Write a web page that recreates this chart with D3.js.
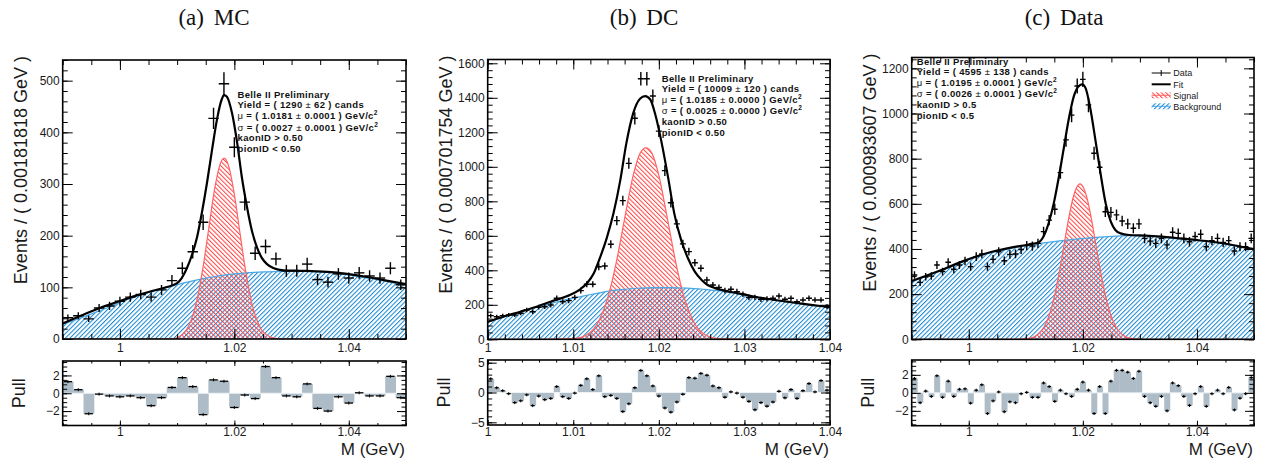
<!DOCTYPE html>
<html>
<head>
<meta charset="utf-8">
<script src="https://cdn.jsdelivr.net/npm/d3@7"></script>
<style>
  body { margin: 0; background: #fff; }
  svg { display: block; font-family: "Liberation Sans", Arial, sans-serif; }
</style>
</head>
<body>
<svg id="chart" width="1267" height="461"></svg>
<script>
// ---------- (a) MC ----------
const mcCounts = [41, 45, 39, 60, 64, 73, 81, 86, 81, 95, 113, 137, 169, 226, 427, 494, 371, 265, 166, 179, 155, 132, 132, 145, 115, 110, 126, 118, 128, 122, 118, 137, 105];
const mcPulls = [1.3, 0.4, -2.3, -0.1, -0.3, -0.4, -0.3, -0.5, -1.4, -0.5, 0.65, 1.75, 0.75, -2.4, 1.5, 1.35, -1.6, -0.2, -0.6, 3.0, 1.75, -0.3, -0.4, 1.05, -1.7, -2.0, -0.4, -1.1, 0.05, -0.3, -0.3, 1.9, -0.5];
const mcFit = [[0.99, 30], [0.9936, 47], [0.9965, 60], [0.9995, 71.5], [1.0024, 82.5], [1.0053, 92], [1.0082, 100.5], [1.0100, 108], [1.0108, 118], [1.0117, 137], [1.0126, 163], [1.0135, 198], [1.0143, 243], [1.0152, 301], [1.0161, 366], [1.0170, 427], [1.0178, 464], [1.0182, 472], [1.0187, 469], [1.0196, 437], [1.0205, 379], [1.0213, 314], [1.0222, 256], [1.0231, 208], [1.0240, 176], [1.0248, 157], [1.0257, 145], [1.0269, 137], [1.0286, 133], [1.0315, 132], [1.0344, 131], [1.0374, 129], [1.0403, 125], [1.0432, 120], [1.0461, 114], [1.05, 106]];
const mcBkg = [[0.99, 28], [0.9965, 55], [1.0024, 81], [1.0082, 100], [1.0141, 116], [1.0199, 126], [1.0257, 130], [1.0315, 131.5], [1.0374, 128], [1.0432, 118], [1.05, 104]];
const mcSig = [[0.99, 0], [1.005, 0], [1.0092, 1], [1.0110, 10], [1.0125, 38], [1.0135, 77], [1.0145, 137], [1.0155, 212], [1.0165, 287], [1.0175, 338], [1.0182, 350], [1.0190, 335], [1.0200, 280], [1.0210, 204], [1.0220, 130], [1.0230, 72], [1.0240, 35], [1.0255, 9], [1.0275, 1], [1.032, 0], [1.05, 0]];
const mcXTicks = [1, 1.02, 1.04];
const mcYTicks = [0, 100, 200, 300, 400, 500];
const mcPullTicks = [-2, 0, 2];
const mcInfo = ['Belle II Preliminary', 'Yield = ( 1290 ± 62 ) cands', 'μ = ( 1.0181 ± 0.0001 ) GeV/c^2', 'σ = ( 0.0027 ± 0.0001 ) GeV/c^2', 'kaonID > 0.50', 'pionID < 0.50'];

// ---------- (b) DC ----------
const dcCounts = [137, 131, 137, 141, 141, 151, 170, 160, 186, 189, 199, 238, 218, 224, 243, 282, 319, 319, 421, 425, 551, 688, 804, 1020, 1281, 1510, 1510, 1410, 1207, 978, 792, 669, 553, 508, 444, 412, 344, 315, 301, 282, 290, 276, 261, 242, 243, 232, 234, 238, 251, 232, 238, 218, 228, 238, 228, 228, 189];
const dcPulls = [2.3, 0.8, 0.3, -0.2, -1.7, -1.4, -0.4, -2.2, -0.6, -1.2, -1.0, 1.0, -0.7, -1.0, -0.1, 1.2, 2.3, 0.5, 2.8, -0.7, -0.5, -1.0, -3.2, -1.9, 0.8, 3.7, 2.8, 1.1, -0.6, -2.6, -3.3, -1.6, -0.3, 2.5, 2.4, 3.2, 2.9, 1.1, 0.8, -0.8, 0.1, -0.1, -0.8, -1.5, -2.9, -1.7, -2.3, -1.6, 0.2, -0.9, 0.5, -1.0, 0.3, 1.5, 0.1, 2.0, 0.4];
const dcFit = [[1.0, 102], [1.0018, 131], [1.0038, 160], [1.0057, 189], [1.0077, 224], [1.0096, 257], [1.0108, 290], [1.0116, 325], [1.0124, 383], [1.0131, 470], [1.0139, 585], [1.0147, 730], [1.0155, 924], [1.0162, 1136], [1.0170, 1310], [1.0178, 1395], [1.0184, 1410], [1.0190, 1390], [1.0196, 1300], [1.0203, 1146], [1.0211, 933], [1.0218, 730], [1.0226, 576], [1.0234, 470], [1.0242, 392], [1.0250, 344], [1.0257, 315], [1.0265, 298], [1.0272, 288], [1.0292, 267], [1.0311, 248], [1.0330, 232], [1.0350, 218], [1.0369, 205], [1.0389, 193], [1.04, 186]];
const dcBkg = [[1.0, 100], [1.0038, 158], [1.0077, 212], [1.0116, 255], [1.0135, 274], [1.0155, 288], [1.0174, 296], [1.0194, 300], [1.0213, 300], [1.0233, 297], [1.0252, 290], [1.0272, 280], [1.0291, 265], [1.0311, 247], [1.0350, 217], [1.04, 185]];
const dcSig = [[1.0, 0], [1.006, 0], [1.0100, 4], [1.0115, 24], [1.0130, 108], [1.0140, 235], [1.0150, 440], [1.0160, 700], [1.0170, 950], [1.0178, 1078], [1.0185, 1110], [1.0192, 1078], [1.0200, 950], [1.0210, 700], [1.0220, 440], [1.0230, 235], [1.0240, 108], [1.0255, 24], [1.0270, 4], [1.031, 0], [1.04, 0]];
const dcXTicks = [1, 1.01, 1.02, 1.03, 1.04];
const dcYTicks = [0, 200, 400, 600, 800, 1000, 1200, 1400, 1600];
const dcPullTicks = [-5, 0, 5];
const dcInfo = ['Belle II Preliminary', 'Yield = ( 10009 ± 120 ) cands', 'μ = ( 1.0185 ± 0.0000 ) GeV/c^2', 'σ = ( 0.0025 ± 0.0000 ) GeV/c^2', 'kaonID > 0.50', 'pionID < 0.50'];

// ---------- (c) Data ----------
const dataCounts = [285, 252, 277, 280, 329, 300, 341, 310, 329, 347, 322, 366, 378, 322, 354, 388, 348, 376, 378, 398, 415, 413, 425, 477, 528, 576, 738, 883, 993, 1122, 1151, 1038, 824, 762, 565, 562, 551, 524, 511, 492, 511, 447, 435, 425, 447, 418, 474, 469, 447, 432, 455, 465, 410, 437, 447, 429, 437, 391, 410, 410, 447];
const dataPulls = [1.6, -1.1, 0.2, -0.4, 1.9, -0.5, 1.3, -0.4, 0.4, 0.45, -1.15, 0.3, 0.9, -2.3, -0.9, 0.1, -2.1, -1.0, -1.1, -0.1, 0.05, -0.5, -0.5, 1.1, 0.7, -0.95, 0.3, -0.1, -0.4, 0.4, 1.2, 0.3, -2.3, 0.7, -2.3, 1.3, 2.5, 2.5, 2.3, 1.6, 2.4, -0.4, -1.1, -1.5, -0.4, -2.0, 1.1, 0.8, -0.4, -1.4, -0.1, 0.7, -1.5, -0.1, 0.3, -0.1, 0.6, -1.9, -0.6, -0.1, 1.7];
const dataFit = [[0.99, 258], [0.9929, 285], [0.9959, 314], [0.9988, 344], [1.0017, 370], [1.0046, 391], [1.0076, 407], [1.0105, 420], [1.0123, 430], [1.0131, 455], [1.0140, 514], [1.0149, 602], [1.0158, 720], [1.0167, 853], [1.0175, 971], [1.0184, 1075], [1.0193, 1122], [1.0199, 1129], [1.0205, 1111], [1.0213, 1023], [1.0222, 883], [1.0231, 735], [1.0240, 602], [1.0249, 521], [1.0257, 484], [1.0266, 469], [1.0281, 462], [1.0310, 459], [1.0339, 455], [1.0369, 447], [1.0398, 440], [1.0427, 432], [1.0456, 421], [1.0486, 406], [1.05, 399]];
const dataBkg = [[0.99, 255], [0.9959, 312], [1.0017, 368], [1.0076, 404], [1.0135, 428], [1.0193, 445], [1.0252, 456], [1.0281, 459], [1.0310, 458], [1.0369, 446], [1.0427, 431], [1.05, 397]];
const dataSig = [[0.99, 0], [1.008, 0], [1.0105, 4], [1.0120, 19], [1.0133, 59], [1.0143, 122], [1.0151, 200], [1.0159, 301], [1.0167, 417], [1.0175, 533], [1.0182, 618], [1.0189, 672], [1.0195, 688], [1.0201, 672], [1.0208, 618], [1.0215, 533], [1.0223, 417], [1.0231, 301], [1.0239, 200], [1.0247, 122], [1.0257, 59], [1.0270, 19], [1.0285, 4], [1.031, 0], [1.05, 0]];
const dataXTicks = [1, 1.02, 1.04];
const dataYTicks = [0, 200, 400, 600, 800, 1000, 1200];
const dataPullTicks = [-2, 0, 2];
const dataInfo = ['Belle II Preliminary', 'Yield = ( 4595 ± 138 ) cands', 'μ = ( 1.0195 ± 0.0001 ) GeV/c^2', 'σ = ( 0.0026 ± 0.0001 ) GeV/c^2', 'kaonID > 0.5', 'pionID < 0.5'];
const legendLabels = ['Data', 'Fit', 'Signal', 'Background'];

// ---------- layout ----------
const panels = [
  { key: 'mc', title: '(a) MC', titleX: 214, counts: mcCounts, pulls: mcPulls, fit: mcFit, bkg: mcBkg, sig: mcSig,
    xTicks: mcXTicks, yTicks: mcYTicks, pullTicks: mcPullTicks, info: mcInfo, yTitle: 'Events / ( 0.00181818 GeV )',
    xDomain: [0.99, 1.05], xMinor: 0.005, yMax: 540, yMinor: 20, pullMax: 3.62, pullMinor: 0.5,
    left: 62.7, right: 406, top: 60, bottom: 339, pullTop: 361, pullBottom: 425.5,
    infoX: 237.5, infoY: [97.7, 108.3, 119.4, 130.5, 141.3, 151.9] },
  { key: 'dc', title: '(b) DC', titleX: 644, counts: dcCounts, pulls: dcPulls, fit: dcFit, bkg: dcBkg, sig: dcSig,
    xTicks: dcXTicks, yTicks: dcYTicks, pullTicks: dcPullTicks, info: dcInfo, yTitle: 'Events / ( 0.000701754 GeV )',
    xDomain: [1.0, 1.04], xMinor: 0.002, yMax: 1622, yMinor: 40, pullMax: 5.45, pullMinor: 1,
    left: 487.7, right: 830, top: 59.5, bottom: 339.3, pullTop: 360, pullBottom: 425,
    infoX: 661.7, infoY: [81.5, 92.1, 103.2, 114.3, 125.1, 135.7] },
  { key: 'data', title: '(c) Data', titleX: 1064, counts: dataCounts, pulls: dataPulls, fit: dataFit, bkg: dataBkg, sig: dataSig,
    xTicks: dataXTicks, yTicks: dataYTicks, pullTicks: dataPullTicks, info: dataInfo, yTitle: 'Events / ( 0.000983607 GeV )',
    xDomain: [0.99, 1.05], xMinor: 0.005, yMax: 1248, yMinor: 40, pullMax: 3.65, pullMinor: 0.5,
    left: 911.7, right: 1254, top: 57.5, bottom: 339.3, pullTop: 360, pullBottom: 425.7,
    infoX: 916.7, infoY: [64.5, 75.1, 86.2, 97.3, 108.1, 118.7], legend: true }
];

const svg = d3.select('#chart');
const defs = svg.append('defs');

function hatch(id, color, angle) {
  const p = defs.append('pattern')
    .attr('id', id)
    .attr('patternUnits', 'userSpaceOnUse')
    .attr('width', 3.2)
    .attr('height', 3.2)
    .attr('patternTransform', `rotate(${angle})`);
  p.append('line')
    .attr('x1', 0.5).attr('y1', 0).attr('x2', 0.5).attr('y2', 3.2)
    .attr('stroke', color).attr('stroke-width', 1.05);
}
hatch('bkgHatch', '#1686d2', 45);
hatch('sigHatch', '#ff4545', -45);

// minor ticks between the domain ends
function minorTicks(domain, step) {
  const start = Math.ceil(domain[0] / step - 1e-6);
  const out = [];
  for (let i = start; i * step <= domain[1] + 1e-9; i++) { out.push(+(i * step).toFixed(6)); }
  return out;
}

function tickAxis(g, axis, transform, values, size, fmt, padding) {
  const a = g.append('g')
    .attr('transform', transform)
    .call(axis.tickValues(values).tickSize(-size).tickPadding(padding || 0).tickFormat(fmt || (() => '')));
  a.select('.domain').remove();
  a.attr('font-family', null).attr('font-size', null);
  a.selectAll('line').attr('stroke', '#000').attr('stroke-width', 1);
  a.selectAll('text').attr('fill', '#1a1a1a').attr('font-size', 12);
  return a;
}

function frame(g, x, y, box, xMaj, xMin, yMaj, yMin, len, yFmt, xPad) {
  const xFmt = (v) => String(+v.toFixed(4));
  tickAxis(g, d3.axisBottom(x), `translate(0,${box.bottom})`, xMaj, len.xMaj, xFmt, xPad);
  tickAxis(g, d3.axisBottom(x), `translate(0,${box.bottom})`, xMin, len.xMin);
  tickAxis(g, d3.axisTop(x), `translate(0,${box.top})`, xMaj, len.xMaj);
  tickAxis(g, d3.axisTop(x), `translate(0,${box.top})`, xMin, len.xMin);
  tickAxis(g, d3.axisLeft(y), `translate(${box.left},0)`, yMaj, len.yMaj, yFmt, 3);
  tickAxis(g, d3.axisLeft(y), `translate(${box.left},0)`, yMin, len.yMin);
  tickAxis(g, d3.axisRight(y), `translate(${box.right},0)`, yMaj, len.yMaj);
  tickAxis(g, d3.axisRight(y), `translate(${box.right},0)`, yMin, len.yMin);
  g.append('rect')
    .attr('x', box.left).attr('y', box.top)
    .attr('width', box.right - box.left).attr('height', box.bottom - box.top)
    .attr('fill', 'none').attr('stroke', '#000').attr('stroke-width', 1.6);
}

function infoText(g, lines, x0, ys) {
  lines.forEach((s, i) => {
    const t = g.append('text')
      .attr('x', x0).attr('y', ys[i])
      .attr('font-size', 9.5).attr('font-weight', 'bold')
      .attr('letter-spacing', 0.35).attr('fill', '#111');
    s.split(/(μ|σ|±|\^2)/).forEach((part) => {
      if (!part) { return; }
      if (part === '^2') {
        t.append('tspan').attr('dy', -4).attr('font-size', 6.5).text('2');
      } else if ('μσ±'.includes(part)) {
        t.append('tspan').attr('font-weight', 'normal').text(part);
      } else {
        t.append('tspan').text(part);
      }
    });
  });
}

function drawPanel(p) {
  const g = svg.append('g');
  const x = d3.scaleLinear().domain(p.xDomain).range([p.left, p.right]);
  const y = d3.scaleLinear().domain([0, p.yMax]).range([p.bottom, p.top]);
  const yp = d3.scaleLinear().domain([-p.pullMax, p.pullMax]).range([p.pullBottom, p.pullTop]);

  // title
  svg.append('text')
    .attr('x', p.titleX).attr('y', 25)
    .attr('text-anchor', 'middle')
    .attr('font-family', '"Liberation Serif", "DejaVu Serif", serif')
    .attr('font-size', 23)
    .attr('word-spacing', 4)
    .attr('fill', '#111')
    .text(p.title);

  const clipId = `clip-${p.key}`;
  defs.append('clipPath').attr('id', clipId)
    .append('rect')
    .attr('x', p.left).attr('y', p.top)
    .attr('width', p.right - p.left).attr('height', p.bottom - p.top);

  const plot = g.append('g').attr('clip-path', `url(#${clipId})`);
  const area = d3.area().x((d) => x(d[0])).y0(y(0)).y1((d) => y(d[1])).curve(d3.curveMonotoneX);
  const line = d3.line().x((d) => x(d[0])).y((d) => y(d[1])).curve(d3.curveMonotoneX);

  plot.append('path').datum(p.bkg).attr('d', area).attr('fill', 'url(#bkgHatch)');
  plot.append('path').datum(p.sig).attr('d', area).attr('fill', 'url(#sigHatch)');
  plot.append('path').datum(p.bkg).attr('d', line)
    .attr('fill', 'none').attr('stroke', '#4aa8e4').attr('stroke-width', 1.2);
  plot.append('path').datum(p.sig).attr('d', line)
    .attr('fill', 'none').attr('stroke', '#ff6464').attr('stroke-width', 1.2);
  plot.append('path').datum(p.fit).attr('d', line)
    .attr('fill', 'none').attr('stroke', '#000').attr('stroke-width', 2.2);

  // data points with Poisson error bars
  const bw = (p.xDomain[1] - p.xDomain[0]) / p.counts.length;
  const bins = p.counts.map((c, i) => ({ lo: p.xDomain[0] + i * bw, hi: p.xDomain[0] + (i + 1) * bw, c, e: Math.sqrt(c) }));
  const pts = plot.append('g').attr('stroke', '#000').attr('stroke-width', 1.4);
  pts.selectAll('line.h').data(bins).join('line').attr('class', 'h')
    .attr('x1', (d) => x(d.lo)).attr('x2', (d) => x(d.hi))
    .attr('y1', (d) => y(d.c)).attr('y2', (d) => y(d.c));
  pts.selectAll('line.v').data(bins).join('line').attr('class', 'v')
    .attr('x1', (d) => x((d.lo + d.hi) / 2)).attr('x2', (d) => x((d.lo + d.hi) / 2))
    .attr('y1', (d) => y(d.c - d.e)).attr('y2', (d) => y(d.c + d.e));

  const minorX = minorTicks(p.xDomain, p.xMinor);
  frame(g, x, y, { left: p.left, right: p.right, top: p.top, bottom: p.bottom },
    p.xTicks, minorX, p.yTicks, minorTicks([0, p.yMax], p.yMinor),
    { xMaj: 10, xMin: 5, yMaj: 10, yMin: 5 }, d3.format('d'), 4.5);

  infoText(g, p.info, p.infoX, p.infoY);

  // pull panel
  const pulls = p.pulls.map((v, i) => ({ lo: p.xDomain[0] + i * bw, hi: p.xDomain[0] + (i + 1) * bw, v }));
  const pg = g.append('g');
  pg.selectAll('rect').data(pulls).join('rect')
    .attr('x', (d) => x(d.lo)).attr('width', (d) => x(d.hi) - x(d.lo) + 0.4)
    .attr('y', (d) => yp(Math.max(0, d.v))).attr('height', (d) => Math.abs(yp(d.v) - yp(0)))
    .attr('fill', '#adbcc6');
  pg.append('line')
    .attr('x1', p.left).attr('x2', p.right).attr('y1', yp(0)).attr('y2', yp(0))
    .attr('stroke', '#eef2f5').attr('stroke-width', 1);
  const marks = pg.append('g').attr('stroke', '#000');
  marks.selectAll('line.h').data(pulls).join('line').attr('class', 'h')
    .attr('x1', (d) => x(d.lo) + 1).attr('x2', (d) => x(d.hi) - 1)
    .attr('y1', (d) => yp(d.v)).attr('y2', (d) => yp(d.v)).attr('stroke-width', 1.3);
  marks.selectAll('line.v').data(pulls).join('line').attr('class', 'v')
    .attr('x1', (d) => x((d.lo + d.hi) / 2)).attr('x2', (d) => x((d.lo + d.hi) / 2))
    .attr('y1', (d) => yp(d.v) - 1.5).attr('y2', (d) => yp(d.v) + 1.5).attr('stroke-width', 1);

  frame(g, x, yp, { left: p.left, right: p.right, top: p.pullTop, bottom: p.pullBottom },
    p.xTicks, minorX, p.pullTicks, minorTicks([-p.pullMax, p.pullMax], p.pullMinor),
    { xMaj: 5, xMin: 2.5, yMaj: 9, yMin: 4.5 }, d3.format('d'), 2);

  // axis titles
  const titleX = p.left - 36;
  g.append('text')
    .attr('transform', `translate(${titleX},${p.top - 4}) rotate(-90)`)
    .attr('text-anchor', 'end')
    .attr('font-size', 18).attr('fill', '#1a1a1a')
    .text(p.yTitle);
  g.append('text')
    .attr('transform', `translate(${titleX - 2},${(p.pullTop + p.pullBottom) / 2}) rotate(-90)`)
    .attr('text-anchor', 'middle')
    .attr('font-size', 18).attr('fill', '#1a1a1a')
    .text('Pull');
  g.append('text')
    .attr('x', p.right - 1).attr('y', 455)
    .attr('text-anchor', 'end')
    .attr('font-size', 17).attr('fill', '#1a1a1a')
    .text('M (GeV)');

  if (p.legend) { drawLegend(g); }
}

function drawLegend(g) {
  const lx0 = 1151.7;
  const lx1 = 1170.7;
  const rows = [73, 84.3, 95.3, 106.3];
  const lg = g.append('g');
  legendLabels.forEach((label, i) => {
    const yy = rows[i];
    if (label === 'Data') {
      lg.append('line').attr('x1', lx0).attr('x2', lx1).attr('y1', yy).attr('y2', yy).attr('stroke', '#000').attr('stroke-width', 1);
      lg.append('line').attr('x1', (lx0 + lx1) / 2).attr('x2', (lx0 + lx1) / 2).attr('y1', yy - 3).attr('y2', yy + 3).attr('stroke', '#000').attr('stroke-width', 1);
    } else if (label === 'Fit') {
      lg.append('line').attr('x1', lx0).attr('x2', lx1).attr('y1', yy).attr('y2', yy).attr('stroke', '#000').attr('stroke-width', 2);
    } else {
      lg.append('rect').attr('x', lx0).attr('y', yy - 3).attr('width', lx1 - lx0).attr('height', 6)
        .attr('fill', label === 'Signal' ? 'url(#sigHatch)' : 'url(#bkgHatch)');
      lg.append('line').attr('x1', lx0).attr('x2', lx1).attr('y1', yy).attr('y2', yy)
        .attr('stroke', label === 'Signal' ? '#ff6464' : '#4aa8e4').attr('stroke-width', 1);
    }
    lg.append('text').attr('x', lx1 + 2.5).attr('y', yy + 3.2)
      .attr('font-size', 9).attr('fill', '#1a1a1a').text(label);
  });
}

panels.forEach(drawPanel);
</script>
</body>
</html>
